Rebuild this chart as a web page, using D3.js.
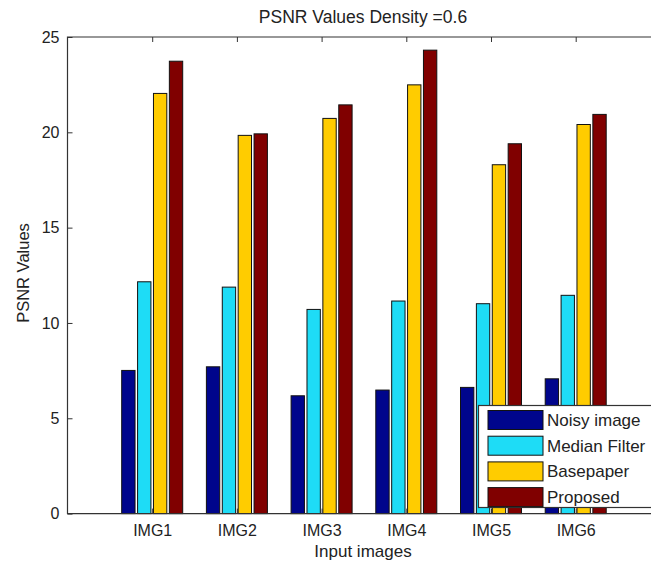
<!DOCTYPE html>
<html><head><meta charset="utf-8">
<script src="https://cdn.jsdelivr.net/npm/d3@7"></script>
<style>body{margin:0;background:#fff}svg{display:block}text{font-family:"Liberation Sans",Arial,sans-serif;fill:#222}</style>
</head><body><svg id="c" width="651" height="564"></svg>
<script>
const categories = ["IMG1","IMG2","IMG3","IMG4","IMG5","IMG6"];
const seriesNames = ["Noisy image","Median Filter","Basepaper","Proposed"];
const noisy    = [7.51, 7.70, 6.18, 6.48, 6.62, 7.07];
const median   = [12.16, 11.88, 10.71, 11.15, 11.01, 11.45];
const basepaper= [22.04, 19.84, 20.73, 22.49, 18.30, 20.41];
const proposed = [23.73, 19.92, 21.44, 24.31, 19.40, 20.94];
const yTicks = [0,5,10,15,20,25];
const colors = ["#00058C","#1EDCF6","#FFCC00","#800000"];
const title = "PSNR Values Density =0.6";
const xTitle = "Input images";
const yTitle = "PSNR Values";

const series = [noisy, median, basepaper, proposed];
const svg = d3.select("#c");
const L = 67.5, T = 37, B = 513.6, R = 660.4;
const x = d3.scaleLinear().domain([0, 7]).range([L, R]);
const y = d3.scaleLinear().domain([0, 25]).range([B, T]);
const inner = d3.scaleBand().domain(d3.range(series.length)).range([-30.5, 30.5]).paddingInner(0.16);
const FF = '"Liberation Sans",Arial,sans-serif';

// bars
const g = svg.append("g");
categories.forEach((c, i) => {
  series.forEach((s, j) => {
    g.append("rect")
      .attr("x", x(i + 1) + inner(j))
      .attr("y", y(s[i]))
      .attr("width", inner.bandwidth())
      .attr("height", y(0) - y(s[i]))
      .attr("fill", colors[j])
      .attr("stroke", "#111").attr("stroke-width", 1);
  });
});

// axes
const axisColor = "#333";
const yAxis = d3.axisRight(y).tickValues(yTicks).tickSize(5).tickFormat(d3.format("d"));
const ya = svg.append("g").attr("transform", `translate(${L},0)`).call(yAxis);
ya.select(".domain").remove();
ya.selectAll("line").attr("stroke", axisColor);
ya.selectAll("text").attr("x", -8).attr("text-anchor", "end").attr("font-size", 16).attr("fill", "#222").style("font-family", FF);

const xb = d3.axisTop(x).tickValues(d3.range(1, 7)).tickSize(5).tickFormat((d) => categories[d - 1]);
const xa = svg.append("g").attr("transform", `translate(0,${B})`).call(xb);
xa.select(".domain").remove();
xa.selectAll("line").attr("stroke", axisColor);
xa.selectAll("text").attr("y", 11).attr("dy", "0.71em").attr("font-size", 16).attr("fill", "#222").style("font-family", FF);

const xt = d3.axisBottom(x).tickValues(d3.range(1, 7)).tickSize(5).tickFormat("");
const xta = svg.append("g").attr("transform", `translate(0,${T})`).call(xt);
xta.select(".domain").remove();
xta.selectAll("line").attr("stroke", axisColor);

// box lines (left, top, bottom)
svg.append("path").attr("d", `M${R},${T}H${L}V${B}H${R}`).attr("fill", "none").attr("stroke", axisColor).attr("stroke-width", 1.2);

// titles
svg.append("text").attr("x", 363).attr("y", 23).attr("text-anchor", "middle").attr("font-size", 17.5).text(title);
svg.append("text").attr("x", 363).attr("y", 557).attr("text-anchor", "middle").attr("font-size", 17).text(xTitle);
svg.append("text").attr("transform", "translate(29,273) rotate(-90)").attr("text-anchor", "middle").attr("font-size", 16.5).text(yTitle);

// legend
const lg = svg.append("g");
lg.append("rect").attr("x", 478.5).attr("y", 405.5).attr("width", 200).attr("height", 102).attr("fill", "#fff").attr("stroke", axisColor).attr("stroke-width", 1.2);
seriesNames.forEach((n, j) => {
  const cy = 420 + j * 25.7;
  lg.append("rect").attr("x", 488).attr("y", cy - 9.5).attr("width", 55).attr("height", 19).attr("fill", colors[j]).attr("stroke", "#111");
  lg.append("text").attr("x", 547).attr("y", cy + 6).attr("font-size", 17).text(n);
});
</script></body></html>
